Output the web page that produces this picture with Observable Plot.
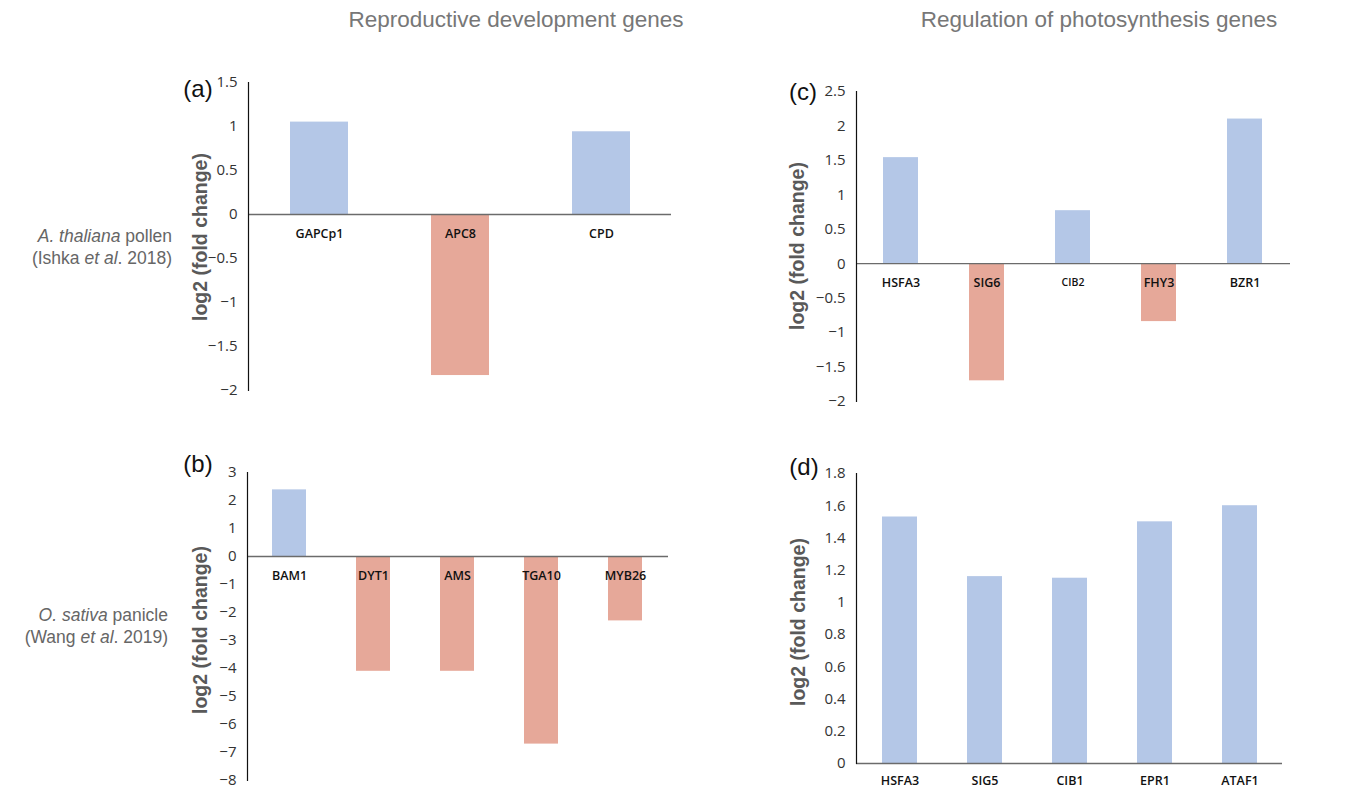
<!DOCTYPE html>
<html>
<head>
<meta charset="utf-8">
<script src="https://cdn.jsdelivr.net/npm/d3@7"></script>
<script src="https://cdn.jsdelivr.net/npm/@observablehq/plot@0.6"></script>
<style>
  body { margin: 0; background: #fff; }
  #root { position: relative; width: 1352px; height: 788px; overflow: hidden; font-family: "Liberation Sans", Arial, sans-serif; }
  .abs { position: absolute; white-space: nowrap; }
  .title { font-size: 22.5px; color: #777; transform: translate(-50%, -50%); }
  .side { font-size: 17.5px; color: #666; text-align: right; line-height: 22px; transform: translate(-100%, -50%); }
  .ylab { font-size: 19.5px; font-weight: bold; color: #595959; transform: translate(-50%, -50%) rotate(-90deg); }
  .letter { font-size: 24px; color: #111; transform: translate(-50%, -50%); }
  .panel { position: absolute; }
</style>
</head>
<body>
<div id="root"></div>
<script>
// ---- data ----
const genesA = ["GAPCp1", "APC8", "CPD"];
const valuesA = [1.05, -1.83, 0.94];
const ticksA = [-2, -1.5, -1, -0.5, 0, 0.5, 1, 1.5];

const genesB = ["BAM1", "DYT1", "AMS", "TGA10", "MYB26"];
const valuesB = [2.38, -4.1, -4.1, -6.7, -2.3];
const ticksB = [-8, -7, -6, -5, -4, -3, -2, -1, 0, 1, 2, 3];

const genesC = ["HSFA3", "SIG6", "CIB2", "FHY3", "BZR1"];
const valuesC = [1.54, -1.7, 0.77, -0.84, 2.1];
const ticksC = [-2, -1.5, -1, -0.5, 0, 0.5, 1, 1.5, 2, 2.5];

const genesD = ["HSFA3", "SIG5", "CIB1", "EPR1", "ATAF1"];
const valuesD = [1.53, 1.16, 1.15, 1.5, 1.6];
const ticksD = [0, 0.2, 0.4, 0.6, 0.8, 1, 1.2, 1.4, 1.6, 1.8];

const colTitles = ["Reproductive development genes", "Regulation of photosynthesis genes"];
const yLabel = "log2 (fold change)";

// ---- styles ----
const BLUE = "#b4c7e7";
const RED = "#e6a899";
const root = document.getElementById("root");

function addText(cls, html, x, y) {
  const d = document.createElement("div");
  d.className = "abs " + cls;
  d.style.left = x + "px";
  d.style.top = y + "px";
  d.innerHTML = html;
  root.appendChild(d);
}

const fmt = d => String(d).replace("-", "\u2212");

function panel(genes, values, ticks, g) {
  const data = genes.map((gene, i) => ({gene, value: values[i]}));
  const mL = 60, mR = 5, mT = 10, mB = 30;
  const width = mL + (g.right - g.axisX) + mR;
  const height = mT + (g.yBottom - g.yTop) + mB;
  const chart = Plot.plot({
    width, height,
    marginLeft: mL, marginRight: mR, marginTop: mT, marginBottom: mB,
    style: {fontFamily: "'Open Sans', sans-serif", color: "#333", background: "transparent"},
    x: {domain: genes, paddingInner: 0.59, paddingOuter: 0.295, axis: null},
    y: {domain: [ticks[0], ticks[ticks.length - 1]], axis: null},
    color: {domain: ["up", "down"], range: [BLUE, RED]},
    marks: [
      Plot.barY(data, {x: "gene", y: "value", fill: d => d.value >= 0 ? "up" : "down"}),
      Plot.ruleY([0], {stroke: "#6b6b6b", strokeWidth: 1.3}),
      Plot.text(data, {x: "gene", y: 0, text: "gene", dy: g.labelDy || 19,
        fontSize: d => d.gene === "CIB2" ? 10.5 : 12.5,
        fontWeight: 600, fill: "#111"}),
      Plot.axisY({ticks, tickSize: 0, tickPadding: 11, fontSize: 15, label: null, tickFormat: fmt}),
      Plot.frame({anchor: "left", stroke: "#111", strokeWidth: 1.2})
    ]
  });
  chart.classList.add("panel");
  chart.style.left = (g.axisX - mL) + "px";
  chart.style.top = (g.yTop - mT) + "px";
  root.appendChild(chart);
}

panel(genesA, valuesA, ticksA, {axisX: 248, right: 671, yTop: 82, yBottom: 390});
panel(genesB, valuesB, ticksB, {axisX: 247, right: 668, yTop: 472, yBottom: 780});
panel(genesC, valuesC, ticksC, {axisX: 856, right: 1290, yTop: 91, yBottom: 401});
panel(genesD, valuesD, ticksD, {axisX: 856, right: 1282, yTop: 473, yBottom: 763, labelDy: 17});

addText("title", colTitles[0], 516, 20);
addText("title", colTitles[1], 1099, 20);

addText("side", "<i>A. thaliana</i> pollen<br>(Ishka <i>et al</i>. 2018)", 172, 247);
addText("side", "<i>O. sativa</i> panicle<br>(Wang <i>et al</i>. 2019)", 168, 626);

addText("ylab", yLabel, 200, 237);
addText("ylab", yLabel, 200, 630);
addText("ylab", yLabel, 797, 246);
addText("ylab", yLabel, 798, 622);

addText("letter", "(a)", 198, 89);
addText("letter", "(b)", 198, 464);
addText("letter", "(c)", 803, 92);
addText("letter", "(d)", 804, 467);
</script>
</body>
</html>
